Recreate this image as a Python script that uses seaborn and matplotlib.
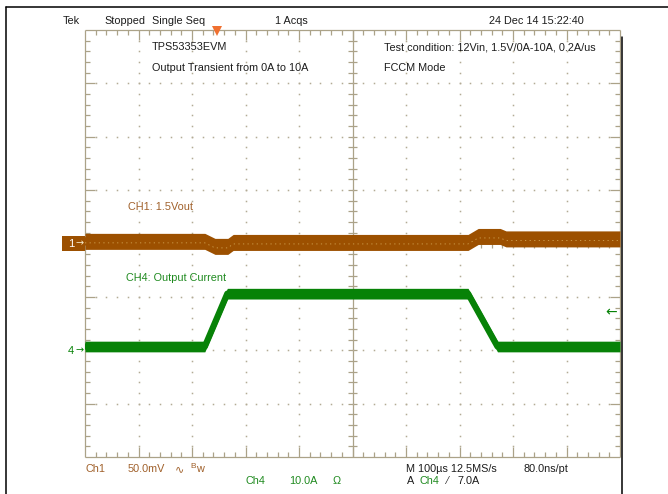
import numpy as np
import matplotlib
matplotlib.use("Agg")
import matplotlib.pyplot as plt
from matplotlib.lines import Line2D
from matplotlib.patches import Rectangle
from matplotlib.collections import LineCollection
import seaborn as sns

# ---- acquisition settings -------------------------------------------------
TIME_PER_DIV_US = 100.0
N_HDIV = 10
N_VDIV = 8
CH1_MV_PER_DIV = 50.0
CH1_POS_DIV = 0.0
CH4_A_PER_DIV = 10.0
CH4_POS_DIV = -2.0
TRIG_LEVEL_A = 7.0
TRIG_TIME_US = 247.0

# ---- CH1: 1.5 V output, AC coupled (mV deviation, envelope centre) ----------
ch1_time_us = [0, 224, 243, 267, 277, 716, 735, 776, 787, 1000]
ch1_mv = [2.0, 2.0, -2.7, -2.7, 1.0, 1.0, 6.6, 6.6, 4.3, 4.3]
ch1_band_mv = 7.5          # half height of the noise envelope

# ---- CH4: output current (A) ------------------------------------------------
ch4_time_us = [0, 224, 266, 716, 771, 1000]
ch4_amp = [0.7, 0.7, 10.6, 10.6, 0.7, 0.7]
ch4_band_a = 1.0

# ---- colours ------------------------------------------------------------------
CH1_COL = "#9c5000"
CH1_TXT = "#a0602a"
CH4_COL = "#078207"
CH4_TXT = "#1f8a1f"
GRAT = "#aba288"
DOT = "#b3ab95"
TXT = "#1c1c1c"
TRIG_COL = "#f07030"

sns.set_style("white")
plt.rcParams["font.family"] = ["Liberation Sans", "DejaVu Sans"]

W, H = 668, 494
fig = plt.figure(figsize=(W / 100, H / 100), dpi=100)
L, T, R, B = 85, 30, 620, 457
ax = fig.add_axes([L / W, 1 - B / H, (R - L) / W, (B - T) / H])

t_end = TIME_PER_DIV_US * N_HDIV
ax.set_xlim(0, t_end)
ax.set_ylim(-N_VDIV / 2, N_VDIV / 2)
ax.set_axis_off()

px = t_end / (R - L)          # µs per pixel
py = N_VDIV / (B - T)         # div per pixel

# ---- graticule ------------------------------------------------------------------
ymin, ymax = -N_VDIV / 2, N_VDIV / 2
minor_x = np.arange(0, t_end + 1e-6, TIME_PER_DIV_US / 5)
minor_y = np.arange(ymin, ymax + 1e-6, 0.2)
segs = []
# frame
segs += [[(0, ymin), (t_end, ymin)], [(0, ymax), (t_end, ymax)],
         [(0, ymin), (0, ymax)], [(t_end, ymin), (t_end, ymax)]]
for x in minor_x[1:-1]:
    major = abs(x / TIME_PER_DIV_US - round(x / TIME_PER_DIV_US)) < 1e-6
    ln = (10 if major else 5) * py
    segs += [[(x, ymin), (x, ymin + ln)], [(x, ymax), (x, ymax - ln)]]
    # centre crosshair ticks
    segs.append([(x, -4.5 * py), (x, 4.5 * py)])
for y in minor_y[1:-1]:
    major = abs(y - round(y)) < 1e-6
    ln = (10 if major else 5) * px
    segs += [[(0, y), (ln, y)], [(t_end, y), (t_end - ln, y)]]
    segs.append([(t_end / 2 - 4.5 * px, y), (t_end / 2 + 4.5 * px, y)])
# centre crosshair
segs += [[(t_end / 2, ymin), (t_end / 2, ymax)], [(0, 0), (t_end, 0)]]
ax.add_collection(LineCollection(segs, colors=GRAT, linewidths=0.9,
                                 zorder=1, clip_on=False))

dx, dy = [], []
for k in range(1, N_HDIV):
    if k * 2 == N_HDIV:
        continue
    for y in minor_y[1:-1]:
        dx.append(k * TIME_PER_DIV_US); dy.append(y)
for k in range(1, N_VDIV):
    yv = ymin + k
    if abs(yv) < 1e-6:
        continue
    for x in minor_x[1:-1]:
        dx.append(x); dy.append(yv)
ax.plot(dx, dy, ls="none", marker="s", ms=1.1, mew=0, color=DOT, zorder=1)

# ---- traces ---------------------------------------------------------------------
t1 = np.array(ch1_time_us, float)
y1 = CH1_POS_DIV + np.array(ch1_mv) / CH1_MV_PER_DIV
b1 = ch1_band_mv / CH1_MV_PER_DIV
ax.fill_between(t1, y1 - b1, y1 + b1, color=CH1_COL, lw=0, zorder=3)
sns.lineplot(x=t1, y=y1, ax=ax, color=CH1_COL, lw=6, estimator=None,
             sort=False, zorder=3)
# faint highlight running through the CH1 band
ax.plot(t1, y1 - 1.5 * py, color="#e8c878", lw=0.6, ls=(0, (1.5, 4)),
        alpha=0.7, zorder=3.5)

t4 = np.array(ch4_time_us, float)
y4 = CH4_POS_DIV + np.array(ch4_amp) / CH4_A_PER_DIV
b4 = ch4_band_a / CH4_A_PER_DIV
ax.fill_between(t4, y4 - b4, y4 + b4, color=CH4_COL, lw=0, zorder=3)
sns.lineplot(x=t4, y=y4, ax=ax, color=CH4_COL, lw=4.5, estimator=None,
             sort=False, zorder=3)

# trigger position and level markers
ax.plot([TRIG_TIME_US], [ymax - 1.0 * py], marker="v", ms=7.5, mew=0,
        color=TRIG_COL, clip_on=False, zorder=5)
trig_div = CH4_POS_DIV + TRIG_LEVEL_A / CH4_A_PER_DIV
ax.text(t_end - 15 * px, trig_div, "←", color=CH4_COL, fontsize=10,
        va="center", ha="left", family=["DejaVu Sans"], zorder=5)

# ---- figure-level decoration (pixel helpers) ------------------------------------
def fx(x):
    return x / W


def fy(y):
    return 1 - y / H


fig.add_artist(Line2D([fx(6), fx(668)], [fy(7), fy(7)], color="black", lw=1.1))
fig.add_artist(Line2D([fx(6), fx(6)], [fy(7), fy(494)], color="black", lw=1.1))
fig.add_artist(Line2D([fx(621.5), fx(621.5)], [fy(37), fy(494)], color="black", lw=1.1))

# channel ground markers
fig.add_artist(Rectangle((fx(62), fy(251)), fx(85) - fx(62), fy(236) - fy(251),
                         color=CH1_COL, lw=0))
fig.text(fx(68), fy(243.5), "1", color="white", fontsize=8, va="center")
fig.text(fx(75), fy(243.5), "→", color="#f4e8c8", fontsize=7, va="center",
         family=["DejaVu Sans"])
fig.text(fx(67.5), fy(351), "4", color=CH4_COL, fontsize=8, va="center")
fig.text(fx(75), fy(350.5), "→", color=CH4_COL, fontsize=7, va="center",
         family=["DejaVu Sans"])

fs = 7.8


def put(x, y, s, c=TXT, size=fs, **kw):
    fig.text(fx(x), fy(y), s, color=c, fontsize=size, va="center", ha="left", **kw)


# status line
put(63, 20.5, "Tek")
put(104, 20.5, "Stopped")
put(152, 20.5, "Single Seq")
put(275, 20.5, "1 Acqs")
put(489, 20.5, "24 Dec 14 15:22:40")

# annotations on screen
put(152, 47, "TPS53353EVM")
put(152, 68, "Output Transient from 0A to 10A")
put(384, 47, "Test condition: 12Vin, 1.5V/0A-10A, 0.2A/us")
put(384, 68, "FCCM Mode")
put(127.5, 207, "CH1: 1.5Vout", c=CH1_TXT)
put(126, 277.5, "CH4: Output Current", c=CH4_TXT)

# channel / timebase readout
put(85, 469, "Ch1", c=CH1_TXT)
put(128, 469, "50.0mV", c=CH1_TXT)
put(175, 469, "∿", c=CH1_TXT, size=8, family=["DejaVu Sans"])
put(190.5, 466, "B", c=CH1_TXT, size=6)
put(196, 469.5, "w", c=CH1_TXT)
put(245.5, 481, "Ch4", c=CH4_TXT)
put(289, 481, "10.0A", c=CH4_TXT)
put(333, 481, "Ω", c=CH4_TXT)
put(406.5, 469, "M 100µs 12.5MS/s")
put(523, 469, "80.0ns/pt")
put(406.5, 481, "A")
put(419.5, 481, "Ch4", c=CH4_TXT)
put(447, 481, "⁄", size=7)
put(458, 481, "7.0A")

fig.savefig("out.png", dpi=100, facecolor="white")
